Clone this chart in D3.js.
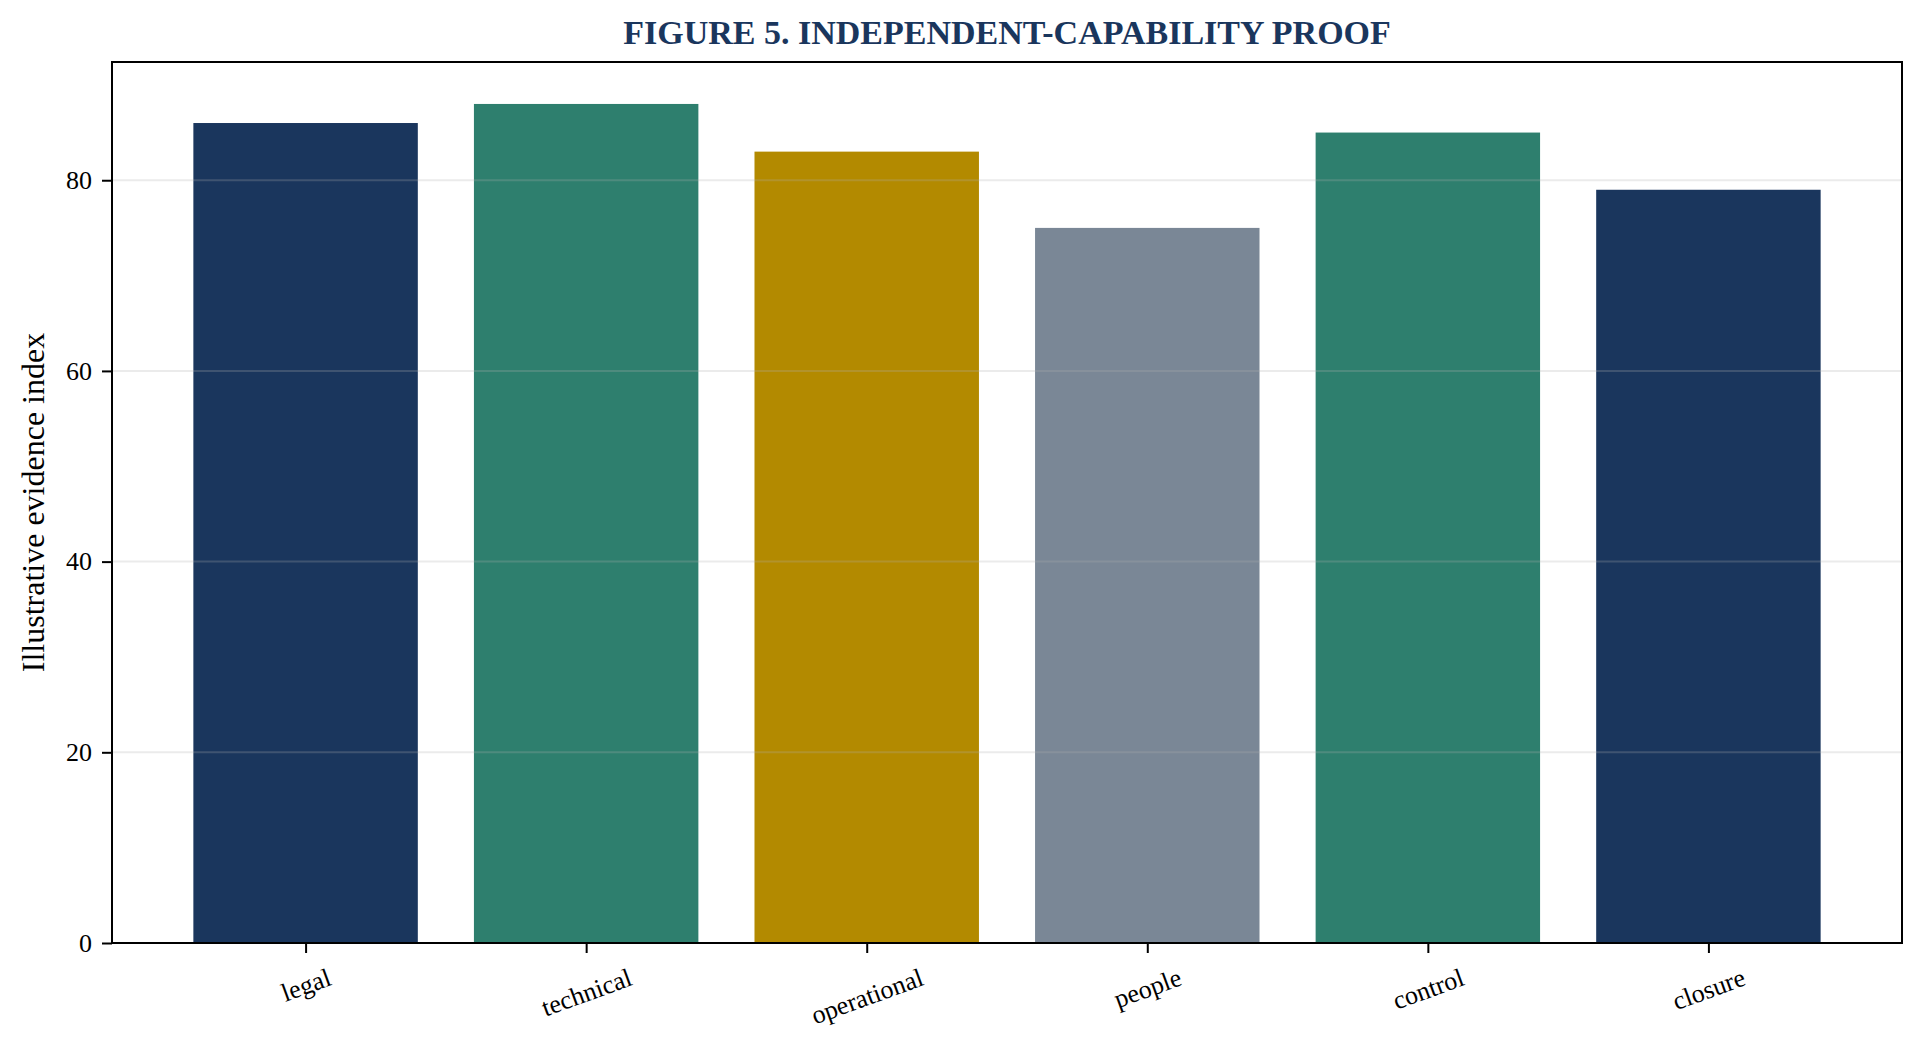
<!DOCTYPE html>
<html>
<head>
<meta charset="utf-8">
<script src="https://cdn.jsdelivr.net/npm/d3@7"></script>
<style>
  body { margin: 0; background: #ffffff; }
  text { font-family: "Liberation Serif", "Times New Roman", serif; }
</style>
</head>
<body>
<div id="chart"></div>
<script>
  // chart data
  var categories = ["legal", "technical", "operational", "people", "control", "closure"];
  var values = [86, 88, 83, 75, 85, 79];
  var barColors = ["#1a365d", "#2e7f6e", "#b38a00", "#7a8796", "#2e7f6e", "#1a365d"];
  var yTicks = [0, 20, 40, 60, 80];
  var title = "FIGURE 5. INDEPENDENT-CAPABILITY PROOF";
  var yLabel = "Illustrative evidence index";

  var width = 1924, height = 1058;
  var margin = {left: 112, right: 22, top: 62, bottom: 115};
  var plotW = width - margin.left - margin.right;
  var plotH = height - margin.top - margin.bottom;

  var svg = d3.select("#chart").append("svg")
      .attr("width", width)
      .attr("height", height)
      .style("background-color", "white");

  // x works like matplotlib: bar centers at 0..n-1, width 0.8, 5% margins
  var n = categories.length;
  var span = (n - 1) + 0.8;
  var xScale = d3.scaleLinear()
      .domain([-0.4 - span * 0.05, n - 1 + 0.4 + span * 0.05])
      .range([0, plotW]);
  var yScale = d3.scaleLinear()
      .domain([0, d3.max(values) * 1.05])
      .range([plotH, 0]);

  var g = svg.append("g").attr("transform", "translate(" + margin.left + "," + margin.top + ")");

  // bars
  g.selectAll(".bar").data(values).enter()
      .append("rect")
      .attr("class", "bar")
      .attr("x", function(d, i) { return xScale(i - 0.4); })
      .attr("width", function(d, i) { return xScale(i + 0.4) - xScale(i - 0.4); })
      .attr("y", function(d) { return yScale(d); })
      .attr("height", function(d) { return plotH - yScale(d); })
      .style("fill", function(d, i) { return barColors[i]; });

  // grid lines sit on top of the bars
  g.selectAll(".grid").data(yTicks).enter()
      .append("line")
      .attr("class", "grid")
      .attr("x1", 0).attr("x2", plotW)
      .attr("y1", function(d) { return yScale(d); })
      .attr("y2", function(d) { return yScale(d); })
      .style("stroke", "#b0b0b0")
      .style("stroke-opacity", 0.25)
      .style("stroke-width", 2);

  // y axis
  var yAxis = g.append("g")
      .call(d3.axisLeft(yScale).tickValues(yTicks).tickSize(10).tickPadding(10));
  yAxis.select(".domain").remove();
  yAxis.selectAll(".tick line").style("stroke", "#000").style("stroke-width", 2);
  yAxis.selectAll(".tick text")
      .style("font-size", "26px")
      .style("fill", "#000");

  // x axis, labels rotated 20 degrees with the box top under the tick
  var xAxis = g.append("g")
      .attr("transform", "translate(0," + plotH + ")")
      .call(d3.axisBottom(xScale).tickValues(d3.range(n)).tickSize(10)
        .tickFormat(function(d) { return categories[d]; }));
  xAxis.select(".domain").remove();
  xAxis.selectAll(".tick line").style("stroke", "#000").style("stroke-width", 2);
  var angle = 20 * Math.PI / 180;
  xAxis.selectAll(".tick text")
      .style("font-size", "26px")
      .style("fill", "#000")
      .attr("dy", null)
      .attr("y", 0)
      .attr("dominant-baseline", "central")
      .attr("text-anchor", "middle")
      .attr("transform", function() {
        var b = this.getBBox();
        var boxH = b.width * Math.sin(angle) + b.height * Math.cos(angle);
        var top = 10 + 10;
        return "translate(0," + (top + boxH / 2) + ") rotate(-20)";
      });

  // frame
  g.append("rect")
      .attr("x", 0).attr("y", 0)
      .attr("width", plotW).attr("height", plotH)
      .style("fill", "none")
      .style("stroke", "#000")
      .style("stroke-width", 2);

  // title, centered over the axes
  svg.append("text")
      .attr("x", margin.left + plotW / 2)
      .attr("y", 44)
      .attr("text-anchor", "middle")
      .style("font-size", "34px")
      .style("font-weight", "bold")
      .style("fill", "#1a365d")
      .text(title);

  // y label
  svg.append("text")
      .attr("transform", "translate(44," + (margin.top + plotH / 2) + ") rotate(-90)")
      .attr("text-anchor", "middle")
      .style("font-size", "32px")
      .style("fill", "#000")
      .text(yLabel);
</script>
</body>
</html>
